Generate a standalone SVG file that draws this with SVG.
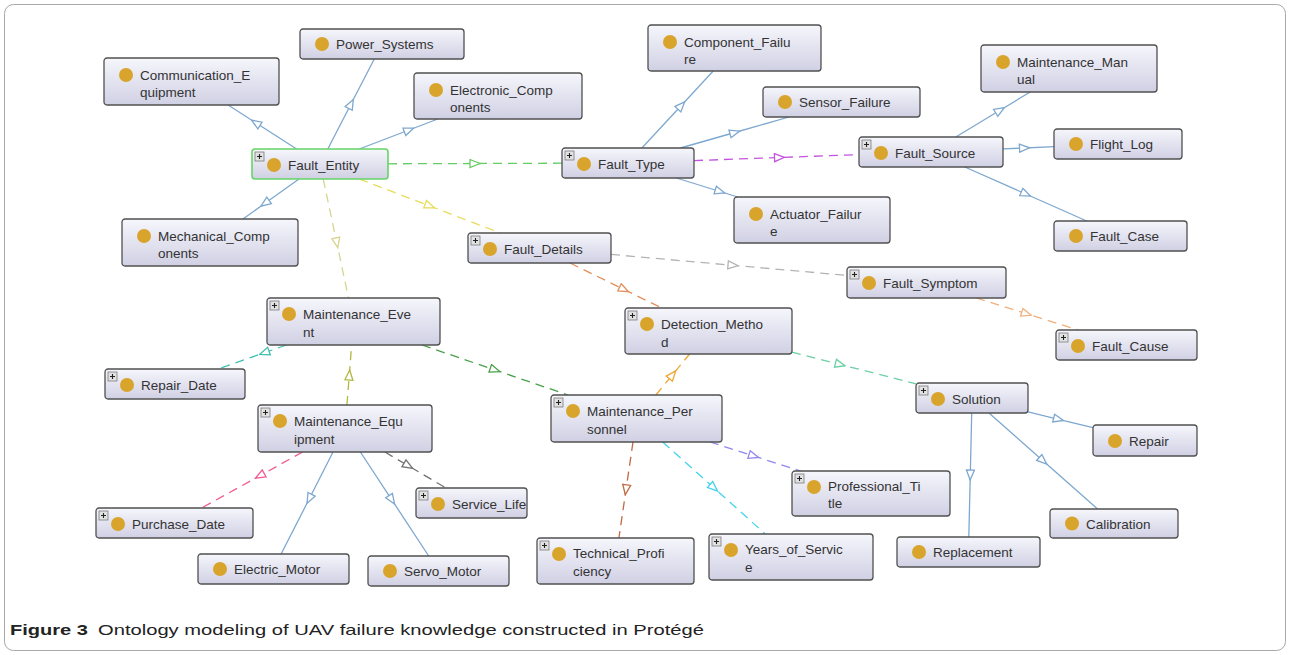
<svg xmlns="http://www.w3.org/2000/svg" width="1290" height="655" viewBox="0 0 1290 655">
  <style>
    .box { fill: url(#nodeFill); stroke: #505050; stroke-width: 1.3; }
    .sel { stroke: #66d466; stroke-width: 1.6; }
    .dot { fill: #d9a42c; }
    .lbl { font-family: "Liberation Sans", Arial, sans-serif; font-size: 13.5px; fill: #333333; }
    .pbox { fill: #e2e2e2; stroke: #7a7a7a; stroke-width: 0.8; }
    .pmark { stroke: #222222; stroke-width: 1.1; }
    .edge { fill: none; stroke-width: 1.3; }
    .dash { stroke-dasharray: 9 6; }
    .cap { font-family: "Liberation Sans", Arial, sans-serif; font-size: 15px; fill: #222222; }
  </style>
  <defs>
    <linearGradient id="nodeFill" x1="0" y1="0" x2="0" y2="1">
      <stop offset="0" stop-color="#f6f6fc"/>
      <stop offset="1" stop-color="#d0d0e4"/>
    </linearGradient>
    <!-- hollow triangle heads, one per edge colour -->
    <marker id="a-blue" viewBox="0 0 12 10" refX="6" refY="5" markerWidth="12" markerHeight="10" markerUnits="userSpaceOnUse" orient="auto"><path d="M1,1 L11,5 L1,9 Z" fill="#fff" stroke="#7ea8cf" stroke-width="1.3"/></marker>
    <marker id="a-green" viewBox="0 0 12 10" refX="6" refY="5" markerWidth="12" markerHeight="10" markerUnits="userSpaceOnUse" orient="auto"><path d="M1,1 L11,5 L1,9 Z" fill="#fff" stroke="#66cc66" stroke-width="1.3"/></marker>
    <marker id="a-yellow" viewBox="0 0 12 10" refX="6" refY="5" markerWidth="12" markerHeight="10" markerUnits="userSpaceOnUse" orient="auto"><path d="M1,1 L11,5 L1,9 Z" fill="#fff" stroke="#e8dc58" stroke-width="1.3"/></marker>
    <marker id="a-khaki" viewBox="0 0 12 10" refX="6" refY="5" markerWidth="12" markerHeight="10" markerUnits="userSpaceOnUse" orient="auto"><path d="M1,1 L11,5 L1,9 Z" fill="#fff" stroke="#d6d690" stroke-width="1.3"/></marker>
    <marker id="a-purple" viewBox="0 0 12 10" refX="6" refY="5" markerWidth="12" markerHeight="10" markerUnits="userSpaceOnUse" orient="auto"><path d="M1,1 L11,5 L1,9 Z" fill="#fff" stroke="#c454e0" stroke-width="1.3"/></marker>
    <marker id="a-gray" viewBox="0 0 12 10" refX="6" refY="5" markerWidth="12" markerHeight="10" markerUnits="userSpaceOnUse" orient="auto"><path d="M1,1 L11,5 L1,9 Z" fill="#fff" stroke="#b4b4b4" stroke-width="1.3"/></marker>
    <marker id="a-orange" viewBox="0 0 12 10" refX="6" refY="5" markerWidth="12" markerHeight="10" markerUnits="userSpaceOnUse" orient="auto"><path d="M1,1 L11,5 L1,9 Z" fill="#fff" stroke="#e0905c" stroke-width="1.3"/></marker>
    <marker id="a-peach" viewBox="0 0 12 10" refX="6" refY="5" markerWidth="12" markerHeight="10" markerUnits="userSpaceOnUse" orient="auto"><path d="M1,1 L11,5 L1,9 Z" fill="#fff" stroke="#f0b07c" stroke-width="1.3"/></marker>
    <marker id="a-mint" viewBox="0 0 12 10" refX="6" refY="5" markerWidth="12" markerHeight="10" markerUnits="userSpaceOnUse" orient="auto"><path d="M1,1 L11,5 L1,9 Z" fill="#fff" stroke="#6cd0a4" stroke-width="1.3"/></marker>
    <marker id="a-olive" viewBox="0 0 12 10" refX="6" refY="5" markerWidth="12" markerHeight="10" markerUnits="userSpaceOnUse" orient="auto"><path d="M1,1 L11,5 L1,9 Z" fill="#fff" stroke="#b2b840" stroke-width="1.3"/></marker>
    <marker id="a-teal" viewBox="0 0 12 10" refX="6" refY="5" markerWidth="12" markerHeight="10" markerUnits="userSpaceOnUse" orient="auto"><path d="M1,1 L11,5 L1,9 Z" fill="#fff" stroke="#40c0ae" stroke-width="1.3"/></marker>
    <marker id="a-dkgreen" viewBox="0 0 12 10" refX="6" refY="5" markerWidth="12" markerHeight="10" markerUnits="userSpaceOnUse" orient="auto"><path d="M1,1 L11,5 L1,9 Z" fill="#fff" stroke="#48a048" stroke-width="1.3"/></marker>
    <marker id="a-amber" viewBox="0 0 12 10" refX="6" refY="5" markerWidth="12" markerHeight="10" markerUnits="userSpaceOnUse" orient="auto"><path d="M1,1 L11,5 L1,9 Z" fill="#fff" stroke="#f0a634" stroke-width="1.3"/></marker>
    <marker id="a-brown" viewBox="0 0 12 10" refX="6" refY="5" markerWidth="12" markerHeight="10" markerUnits="userSpaceOnUse" orient="auto"><path d="M1,1 L11,5 L1,9 Z" fill="#fff" stroke="#c06a44" stroke-width="1.3"/></marker>
    <marker id="a-cyan" viewBox="0 0 12 10" refX="6" refY="5" markerWidth="12" markerHeight="10" markerUnits="userSpaceOnUse" orient="auto"><path d="M1,1 L11,5 L1,9 Z" fill="#fff" stroke="#44d4ec" stroke-width="1.3"/></marker>
    <marker id="a-lav" viewBox="0 0 12 10" refX="6" refY="5" markerWidth="12" markerHeight="10" markerUnits="userSpaceOnUse" orient="auto"><path d="M1,1 L11,5 L1,9 Z" fill="#fff" stroke="#9088f0" stroke-width="1.3"/></marker>
    <marker id="a-pink" viewBox="0 0 12 10" refX="6" refY="5" markerWidth="12" markerHeight="10" markerUnits="userSpaceOnUse" orient="auto"><path d="M1,1 L11,5 L1,9 Z" fill="#fff" stroke="#f05a90" stroke-width="1.3"/></marker>
    <marker id="a-dkgray" viewBox="0 0 12 10" refX="6" refY="5" markerWidth="12" markerHeight="10" markerUnits="userSpaceOnUse" orient="auto"><path d="M1,1 L11,5 L1,9 Z" fill="#fff" stroke="#727272" stroke-width="1.3"/></marker>
    <!-- expand toggle shown on classes that have hidden children -->
    <g id="plus">
      <rect class="pbox" x="0" y="0" width="9" height="9"/>
      <path class="pmark" d="M2,4.5 H7 M4.5,2 V7"/>
    </g>
  </defs>

  <rect x="4.5" y="4.5" width="1281" height="646" rx="9" fill="#ffffff" stroke="#a8a8a8" stroke-width="1"/>

  <g id="connectors">
    <!-- subclass edges (solid blue) -->
    <path class="edge" stroke="#7ea8cf" marker-mid="url(#a-blue)" d="M296.6,149 L255.8,122.8 L228.1,105"/>
    <path class="edge" stroke="#7ea8cf" marker-mid="url(#a-blue)" d="M327.8,149 L351,104 L374.3,59"/>
    <path class="edge" stroke="#7ea8cf" marker-mid="url(#a-blue)" d="M359.3,149 L409,130 L437.8,119"/>
    <path class="edge" stroke="#7ea8cf" marker-mid="url(#a-blue)" d="M299,179 L265,203.3 L242.9,219"/>
    <path class="edge" stroke="#7ea8cf" marker-mid="url(#a-blue)" d="M641.9,148 L681.3,105.5 L713.2,71"/>
    <path class="edge" stroke="#7ea8cf" marker-mid="url(#a-blue)" d="M680.5,148 L734.8,132.5 L789,117"/>
    <path class="edge" stroke="#7ea8cf" marker-mid="url(#a-blue)" d="M676.4,178 L720,191.5 L737.7,197"/>
    <path class="edge" stroke="#7ea8cf" marker-mid="url(#a-blue)" d="M955.8,137 L1000,110.3 L1030.2,92"/>
    <path class="edge" stroke="#7ea8cf" marker-mid="url(#a-blue)" d="M1003,148.9 L1024.5,148 L1054,146.7"/>
    <path class="edge" stroke="#7ea8cf" marker-mid="url(#a-blue)" d="M964.8,167 L1025.8,194 L1086.7,221"/>
    <path class="edge" stroke="#7ea8cf" marker-mid="url(#a-blue)" d="M1028,411.8 L1058.5,419.3 L1093,427.7"/>
    <path class="edge" stroke="#7ea8cf" marker-mid="url(#a-blue)" d="M971.7,413 L970.3,475 L968.8,537"/>
    <path class="edge" stroke="#7ea8cf" marker-mid="url(#a-blue)" d="M989,413 L1043,460.8 L1097.6,509"/>
    <path class="edge" stroke="#7ea8cf" marker-mid="url(#a-blue)" d="M333,452 L309.3,498.8 L281.1,554"/>
    <path class="edge" stroke="#7ea8cf" marker-mid="url(#a-blue)" d="M360.4,452 L391.8,499.8 L428.7,556"/>

    <!-- property edges (dashed, one colour each) -->
    <path class="edge dash" stroke="#66cc66" marker-mid="url(#a-green)" d="M388,163.8 L475,163.5 L562,163.2"/>
    <path class="edge dash" stroke="#e8dc58" marker-mid="url(#a-yellow)" d="M359.2,179 L429.8,206 L500.3,233"/>
    <path class="edge dash" stroke="#d6d690" marker-mid="url(#a-khaki)" d="M323.2,179 L336.8,242.8 L348.5,298"/>
    <path class="edge dash" stroke="#c454e0" marker-mid="url(#a-purple)" d="M694,160.6 L779.5,157.5 L859,154.6"/>
    <path class="edge dash" stroke="#b4b4b4" marker-mid="url(#a-gray)" d="M611,254.4 L733,265.3 L847,275.4"/>
    <path class="edge dash" stroke="#e0905c" marker-mid="url(#a-orange)" d="M570.1,263 L624,289.5 L661.7,308"/>
    <path class="edge dash" stroke="#f0b07c" marker-mid="url(#a-peach)" d="M976.1,298 L1026.5,313.8 L1078.5,330"/>
    <path class="edge dash" stroke="#6cd0a4" marker-mid="url(#a-mint)" d="M792,352.2 L840.3,364.5 L916,383.8"/>
    <path class="edge dash" stroke="#40c0ae" marker-mid="url(#a-teal)" d="M286.4,345 L264.3,352.8 L217.8,369"/>
    <path class="edge dash" stroke="#48a048" marker-mid="url(#a-dkgreen)" d="M422,345 L495,370 L568,395"/>
    <path class="edge dash" stroke="#b2b840" marker-mid="url(#a-olive)" d="M346.9,405 L349.3,375 L351.6,345"/>
    <path class="edge dash" stroke="#f05a90" marker-mid="url(#a-pink)" d="M302.6,452 L259.8,475.8 L201.6,508"/>
    <path class="edge dash" stroke="#727272" marker-mid="url(#a-dkgray)" d="M384.9,452 L408.3,465.8 L446,488"/>
    <path class="edge dash" stroke="#f0a634" marker-mid="url(#a-amber)" d="M655.8,395 L672.5,374.8 L689.6,354"/>
    <path class="edge dash" stroke="#c06a44" marker-mid="url(#a-brown)" d="M633,442 L626,489.8 L618.9,538"/>
    <path class="edge dash" stroke="#44d4ec" marker-mid="url(#a-cyan)" d="M662.7,442 L713.8,487.8 L765.3,534"/>
    <path class="edge dash" stroke="#9088f0" marker-mid="url(#a-lav)" d="M710,442 L753.8,456 L800.7,471"/>
  </g>

  <!-- class nodes -->
  <g id="communication-equipment" transform="translate(104,58)">
    <rect class="box" width="175" height="47" rx="3"/>
    <circle class="dot" cx="22" cy="17" r="7"/>
    <text class="lbl" x="36" y="22">Communication_E</text>
    <text class="lbl" x="36" y="39">quipment</text>
  </g>
  <g id="power-systems" transform="translate(300,29)">
    <rect class="box" width="164" height="30" rx="3"/>
    <circle class="dot" cx="22" cy="15" r="7"/>
    <text class="lbl" x="36" y="20">Power_Systems</text>
  </g>
  <g id="electronic-components" transform="translate(414,73)">
    <rect class="box" width="168" height="46" rx="3"/>
    <circle class="dot" cx="22" cy="17" r="7"/>
    <text class="lbl" x="36" y="22">Electronic_Comp</text>
    <text class="lbl" x="36" y="39">onents</text>
  </g>
  <g id="fault-entity" transform="translate(252,149)">
    <rect class="box sel" width="136" height="30" rx="3"/>
    <use href="#plus" x="3" y="3"/>
    <circle class="dot" cx="22" cy="16" r="7"/>
    <text class="lbl" x="36" y="21">Fault_Entity</text>
  </g>
  <g id="mechanical-components" transform="translate(122,219)">
    <rect class="box" width="176" height="47" rx="3"/>
    <circle class="dot" cx="22" cy="17" r="7"/>
    <text class="lbl" x="36" y="22">Mechanical_Comp</text>
    <text class="lbl" x="36" y="39">onents</text>
  </g>
  <g id="component-failure" transform="translate(648,25)">
    <rect class="box" width="173" height="46" rx="3"/>
    <circle class="dot" cx="22" cy="17" r="7"/>
    <text class="lbl" x="36" y="22">Component_Failu</text>
    <text class="lbl" x="36" y="39">re</text>
  </g>
  <g id="sensor-failure" transform="translate(763,87)">
    <rect class="box" width="157" height="30" rx="3"/>
    <circle class="dot" cx="22" cy="15" r="7"/>
    <text class="lbl" x="36" y="20">Sensor_Failure</text>
  </g>
  <g id="fault-type" transform="translate(562,148)">
    <rect class="box" width="132" height="30" rx="3"/>
    <use href="#plus" x="3" y="3"/>
    <circle class="dot" cx="22" cy="16" r="7"/>
    <text class="lbl" x="36" y="21">Fault_Type</text>
  </g>
  <g id="actuator-failure" transform="translate(734,197)">
    <rect class="box" width="156" height="46" rx="3"/>
    <circle class="dot" cx="22" cy="17" r="7"/>
    <text class="lbl" x="36" y="22">Actuator_Failur</text>
    <text class="lbl" x="36" y="39">e</text>
  </g>
  <g id="maintenance-manual" transform="translate(981,45)">
    <rect class="box" width="176" height="47" rx="3"/>
    <circle class="dot" cx="22" cy="17" r="7"/>
    <text class="lbl" x="36" y="22">Maintenance_Man</text>
    <text class="lbl" x="36" y="39">ual</text>
  </g>
  <g id="fault-source" transform="translate(859,137)">
    <rect class="box" width="144" height="30" rx="3"/>
    <use href="#plus" x="3" y="3"/>
    <circle class="dot" cx="22" cy="16" r="7"/>
    <text class="lbl" x="36" y="21">Fault_Source</text>
  </g>
  <g id="flight-log" transform="translate(1054,129)">
    <rect class="box" width="128" height="30" rx="3"/>
    <circle class="dot" cx="22" cy="15" r="7"/>
    <text class="lbl" x="36" y="20">Flight_Log</text>
  </g>
  <g id="fault-case" transform="translate(1054,221)">
    <rect class="box" width="133" height="30" rx="3"/>
    <circle class="dot" cx="22" cy="15" r="7"/>
    <text class="lbl" x="36" y="20">Fault_Case</text>
  </g>
  <g id="fault-details" transform="translate(468,233)">
    <rect class="box" width="143" height="30" rx="3"/>
    <use href="#plus" x="3" y="3"/>
    <circle class="dot" cx="22" cy="16" r="7"/>
    <text class="lbl" x="36" y="21">Fault_Details</text>
  </g>
  <g id="fault-symptom" transform="translate(847,267)">
    <rect class="box" width="159" height="31" rx="3"/>
    <use href="#plus" x="3" y="3"/>
    <circle class="dot" cx="22" cy="16" r="7"/>
    <text class="lbl" x="36" y="21">Fault_Symptom</text>
  </g>
  <g id="fault-cause" transform="translate(1056,330)">
    <rect class="box" width="141" height="30" rx="3"/>
    <use href="#plus" x="3" y="3"/>
    <circle class="dot" cx="22" cy="16" r="7"/>
    <text class="lbl" x="36" y="21">Fault_Cause</text>
  </g>
  <g id="solution" transform="translate(916,383)">
    <rect class="box" width="112" height="30" rx="3"/>
    <use href="#plus" x="3" y="3"/>
    <circle class="dot" cx="22" cy="16" r="7"/>
    <text class="lbl" x="36" y="21">Solution</text>
  </g>
  <g id="repair" transform="translate(1093,425)">
    <rect class="box" width="104" height="31" rx="3"/>
    <circle class="dot" cx="22" cy="16" r="7"/>
    <text class="lbl" x="36" y="21">Repair</text>
  </g>
  <g id="maintenance-event" transform="translate(267,298)">
    <rect class="box" width="173" height="47" rx="3"/>
    <use href="#plus" x="3" y="3"/>
    <circle class="dot" cx="22" cy="16" r="7"/>
    <text class="lbl" x="36" y="21">Maintenance_Eve</text>
    <text class="lbl" x="36" y="39">nt</text>
  </g>
  <g id="repair-date" transform="translate(105,369)">
    <rect class="box" width="140" height="30" rx="3"/>
    <use href="#plus" x="3" y="3"/>
    <circle class="dot" cx="22" cy="16" r="7"/>
    <text class="lbl" x="36" y="21">Repair_Date</text>
  </g>
  <g id="maintenance-equipment" transform="translate(258,405)">
    <rect class="box" width="174" height="47" rx="3"/>
    <use href="#plus" x="3" y="3"/>
    <circle class="dot" cx="22" cy="16" r="7"/>
    <text class="lbl" x="36" y="21">Maintenance_Equ</text>
    <text class="lbl" x="36" y="39">ipment</text>
  </g>
  <g id="detection-method" transform="translate(625,308)">
    <rect class="box" width="167" height="46" rx="3"/>
    <use href="#plus" x="3" y="3"/>
    <circle class="dot" cx="22" cy="16" r="7"/>
    <text class="lbl" x="36" y="21">Detection_Metho</text>
    <text class="lbl" x="36" y="39">d</text>
  </g>
  <g id="maintenance-personnel" transform="translate(551,395)">
    <rect class="box" width="171" height="47" rx="3"/>
    <use href="#plus" x="3" y="3"/>
    <circle class="dot" cx="22" cy="16" r="7"/>
    <text class="lbl" x="36" y="21">Maintenance_Per</text>
    <text class="lbl" x="36" y="39">sonnel</text>
  </g>
  <g id="professional-title" transform="translate(792,471)">
    <rect class="box" width="158" height="45" rx="3"/>
    <use href="#plus" x="3" y="3"/>
    <circle class="dot" cx="22" cy="16" r="7"/>
    <text class="lbl" x="36" y="20">Professional_Ti</text>
    <text class="lbl" x="36" y="37">tle</text>
  </g>
  <g id="purchase-date" transform="translate(96,508)">
    <rect class="box" width="157" height="30" rx="3"/>
    <use href="#plus" x="3" y="3"/>
    <circle class="dot" cx="22" cy="16" r="7"/>
    <text class="lbl" x="36" y="21">Purchase_Date</text>
  </g>
  <g id="service-life" transform="translate(416,488)">
    <rect class="box" width="111" height="30" rx="3"/>
    <use href="#plus" x="3" y="3"/>
    <circle class="dot" cx="22" cy="16" r="7"/>
    <text class="lbl" x="36" y="21">Service_Life</text>
  </g>
  <g id="electric-motor" transform="translate(198,554)">
    <rect class="box" width="151" height="30" rx="3"/>
    <circle class="dot" cx="22" cy="15" r="7"/>
    <text class="lbl" x="36" y="20">Electric_Motor</text>
  </g>
  <g id="servo-motor" transform="translate(368,556)">
    <rect class="box" width="141" height="30" rx="3"/>
    <circle class="dot" cx="22" cy="15" r="7"/>
    <text class="lbl" x="36" y="20">Servo_Motor</text>
  </g>
  <g id="technical-proficiency" transform="translate(537,538)">
    <rect class="box" width="157" height="46" rx="3"/>
    <use href="#plus" x="3" y="3"/>
    <circle class="dot" cx="22" cy="16" r="7"/>
    <text class="lbl" x="36" y="20">Technical_Profi</text>
    <text class="lbl" x="36" y="38">ciency</text>
  </g>
  <g id="years-of-service" transform="translate(709,534)">
    <rect class="box" width="164" height="46" rx="3"/>
    <use href="#plus" x="3" y="3"/>
    <circle class="dot" cx="22" cy="16" r="7"/>
    <text class="lbl" x="36" y="20">Years_of_Servic</text>
    <text class="lbl" x="36" y="38">e</text>
  </g>
  <g id="calibration" transform="translate(1050,509)">
    <rect class="box" width="128" height="29" rx="3"/>
    <circle class="dot" cx="22" cy="14.5" r="7"/>
    <text class="lbl" x="36" y="19.5">Calibration</text>
  </g>
  <g id="replacement" transform="translate(897,537)">
    <rect class="box" width="143" height="30" rx="3"/>
    <circle class="dot" cx="22" cy="15" r="7"/>
    <text class="lbl" x="36" y="20">Replacement</text>
  </g>

  <!-- caption -->
  <text class="cap" x="10" y="635" font-weight="bold" textLength="78" lengthAdjust="spacingAndGlyphs">Figure 3</text>
  <text class="cap" x="98" y="635" textLength="606" lengthAdjust="spacingAndGlyphs">Ontology modeling of UAV failure knowledge constructed in Protégé</text>
</svg>
